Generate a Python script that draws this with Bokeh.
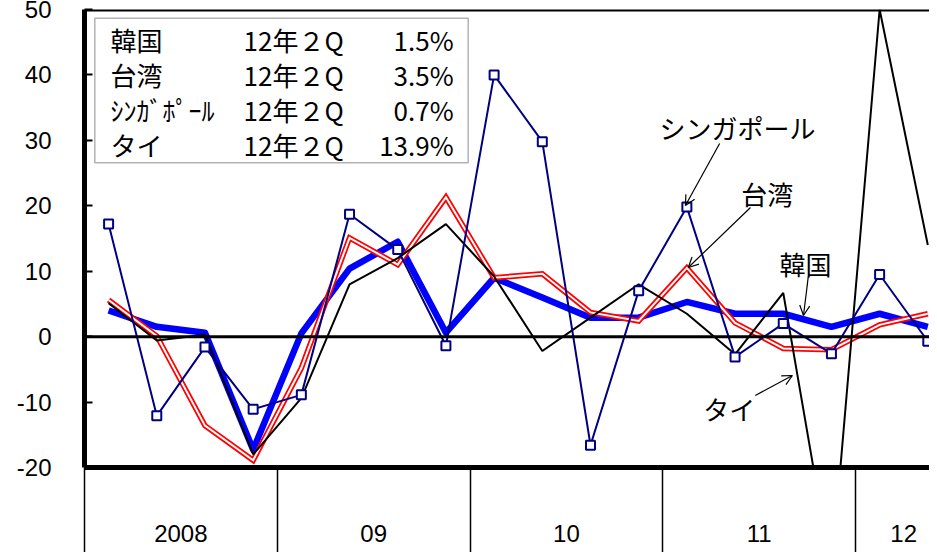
from bokeh.plotting import figure
from bokeh.models import FixedTicker, Span, Label, Arrow, OpenHead, Range1d, BoxAnnotation
from bokeh.embed import file_html
from bokeh.resources import INLINE

# ---- data (quarterly, 2008Q1 .. 2012Q2) ----
years = ["2008", "09", "10", "11", "12"]
korea = [4.0, 1.5, 0.6, -17.3, 0.5, 10.4, 14.5, 0.6, 9.0, 6.0, 2.9, 2.9, 5.3, 3.5, 3.5, 1.5, 3.5, 1.5]
taiwan = [5.6, 0.1, -13.6, -18.9, -4.8, 15.1, 11.0, 21.3, 9.0, 9.6, 3.7, 2.4, 10.5, 2.1, -1.8, -2.0, 1.8, 3.5]
singapore = [17.2, -12.1, -1.6, -11.1, -8.9, 18.7, 13.3, -1.4, 40.0, 29.8, -16.6, 7.0, 19.8, -3.1, 2.0, -2.6, 9.5, -0.7]
thai = [5.1, -0.6, 0.3, -18.0, -9.4, 8.0, 12.0, 17.2, 9.2, -2.2, 2.9, 8.0, 3.5, -2.7, 6.7, -36.0, 50.0, 14.0]
legend_names = ["韓国", "台湾", "ｼﾝｶﾞﾎﾟｰﾙ", "タイ"]
legend_period = ["12年２Q", "12年２Q", "12年２Q", "12年２Q"]
legend_values = ["1.5%", "3.5%", "0.7%", "13.9%"]
y_ticks = [-20, -10, 0, 10, 20, 30, 40, 50]

x = [i + 0.5 for i in range(len(korea))]

W, H = 929, 552
p = figure(width=W, height=H, output_backend="svg", toolbar_location=None,
           x_range=Range1d(0, 17.535), y_range=Range1d(-20, 50),
           min_border_left=84, min_border_right=0, min_border_top=9, min_border_bottom=85)
p.outline_line_color = None
p.xgrid.visible = False
p.ygrid.visible = False
p.background_fill_color = "white"
p.border_fill_color = "white"

# y axis
ya = p.yaxis[0]
ya.ticker = FixedTicker(ticks=y_ticks, minor_ticks=[])
ya.major_label_overrides = {t: str(t) for t in y_ticks}
ya.axis_line_width = 5
ya.axis_line_color = "black"
ya.major_tick_in = 8
ya.major_tick_out = 0
ya.major_tick_line_width = 2
ya.minor_tick_line_color = None
ya.major_label_text_font = "Liberation Sans"
ya.major_label_text_font_size = "24px"
ya.major_label_text_color = "black"
ya.major_label_standoff = 33

# x axis: year labels + long separators
xa = p.xaxis[0]
label_pos = [2, 6, 10, 14, 17]
xa.ticker = FixedTicker(ticks=label_pos, minor_ticks=[0, 4, 8, 12, 16])
xa.major_label_overrides = {t: s for t, s in zip(label_pos, years)}
xa.axis_line_width = 5
xa.axis_line_color = "black"
xa.major_tick_in = 0
xa.major_tick_out = 0
xa.minor_tick_in = 0
xa.minor_tick_out = 85
xa.minor_tick_line_width = 1.5
xa.minor_tick_line_color = "black"
xa.major_label_text_font = "Liberation Sans"
xa.major_label_text_font_size = "24px"
xa.major_label_text_color = "black"
xa.major_label_standoff = -28

# frame top and zero line
p.add_layout(Span(location=50, dimension="width", line_color="black", line_width=4))
p.add_layout(Span(location=0, dimension="width", line_color="black", line_width=3))

# series
p.line(x, korea, line_color="#0000FF", line_width=6.5, line_join="round")
p.line(x, taiwan, line_color="#FF0000", line_width=5.5, line_join="miter")
p.line(x, taiwan, line_color="white", line_width=2, line_join="miter")
p.line(x, thai, line_color="black", line_width=2)
p.line(x, singapore, line_color="#000080", line_width=2)
p.scatter(x, singapore, marker="square", size=9, fill_color="white",
          line_color="#000080", line_width=2)

# legend box (text table)
p.add_layout(BoxAnnotation(left=0.214, right=7.962, top=48.67, bottom=26.57,
                           fill_color="white", fill_alpha=1.0,
                           line_color="black", line_width=1.5))
row_y = [45.34, 39.99, 34.64, 29.37]
cjk = "Noto Sans CJK JP"
for ry, nm, per, val in zip(row_y, legend_names, legend_period, legend_values):
    p.add_layout(Label(x=0.54, y=ry, text=nm, text_font=cjk, text_font_size="26px",
                       text_align="left", text_baseline="middle", text_color="black"))
    p.add_layout(Label(x=3.30, y=ry, text=per, text_font=cjk, text_font_size="26px",
                       text_align="left", text_baseline="middle", text_color="black"))
    p.add_layout(Label(x=7.66, y=ry, text=val, text_font=cjk, text_font_size="26px",
                       text_align="right", text_baseline="middle", text_color="black"))

# callouts
callouts = [
    ("シンガポール", 13.55, 31.97, 13.18, 29.52, 12.47, 20.04),
    ("台湾", 14.17, 21.88, 13.82, 19.74, 12.53, 10.57),
    ("韓国", 14.96, 11.18, 15.02, 9.19, 14.92, 3.23),
    ("タイ", 13.38, -10.98, 13.92, -8.99, 14.69, -5.94),
]
for txt, lx, ly, xs, ys, xe, ye in callouts:
    p.add_layout(Label(x=lx, y=ly, text=txt, text_font=cjk, text_font_size="26px",
                       text_align="center", text_baseline="middle", text_color="black"))
    p.add_layout(Arrow(end=OpenHead(size=10, line_width=1.2, line_color="black"),
                       x_start=xs, y_start=ys, x_end=xe, y_end=ye,
                       line_width=1.2, line_color="black"))

open("out.html", "w").write(file_html(p, INLINE))
